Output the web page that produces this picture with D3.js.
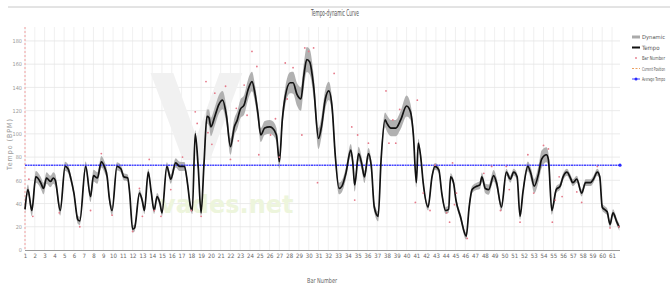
<!DOCTYPE html>
<html><head><meta charset="utf-8">
<script src="https://cdn.jsdelivr.net/npm/d3@7"></script>
<style>
html,body{margin:0;padding:0;background:#fff;}
svg{display:block;font-family:"Liberation Sans Narrow","DejaVu Sans Condensed","Liberation Sans",sans-serif;}
</style></head>
<body>
<svg id="c" width="670" height="288"></svg>
<script>
// ---- data ----
const barTicks = d3.range(1, 62);
const yTicks = [0, 20, 40, 60, 80, 100, 120, 140, 160, 180];
const tempoBar = [1.0,1.3,1.7,2.1,2.3,2.6,2.9,3.2,3.6,3.9,4.1,4.6,5.1,5.4,5.7,6.0,6.4,6.6,7.2,7.7,8.0,8.4,8.8,9.1,9.4,9.6,9.9,10.4,10.8,11.1,11.5,11.7,12.0,12.2,12.7,13.0,13.2,13.6,13.9,14.2,14.5,14.8,15.0,15.5,15.9,16.4,16.8,17.3,17.6,17.9,18.1,18.4,18.7,19.0,19.3,19.6,19.8,20.0,20.4,20.8,21.2,21.6,22.0,22.4,22.7,23.0,23.4,23.8,24.2,24.5,24.8,25.1,25.5,26.0,26.3,26.7,27.0,27.3,27.6,28.1,28.4,28.8,29.2,29.5,29.8,30.1,30.5,31.0,31.3,31.7,32.05,32.4,32.7,33.1,33.4,33.8,34.3,34.5,34.7,35.1,35.4,35.7,36.1,36.4,36.7,37.1,37.4,37.8,38.0,38.4,38.9,39.4,40.0,40.4,40.7,41.0,41.2,41.45,41.7,42.2,42.6,42.9,43.3,43.6,44.0,44.3,44.5,44.8,45.05,45.5,46.1,46.4,46.7,47.2,47.5,47.7,48.05,48.4,48.9,49.2,49.7,50.2,50.6,50.95,51.3,51.6,51.9,52.4,52.7,53.05,53.5,53.8,54.3,54.5,54.85,55.3,55.7,56.0,56.4,56.7,57.0,57.4,57.9,58.3,58.8,59.1,59.5,59.75,60.0,60.3,60.5,60.8,61.1,61.5,61.75];
const tempoVal = [35,52,34,63,62,58,53,62,59,62,60,34,72,70,61,49,26,25,72,46,64,62,76,72,63,46,34,72,70,63,62,49,18,19,49,42,34,67,50,34,46,40,32,72,61,75,72,72,58,38,34,100,72,32,75,115,114,106,115,125,129,115,89,106,112,121,125,138,145,135,118,99,105,106,105,99,76,112,132,144,144,134,130,150,164,162,141,96,106,130,137,122,83,53,55,66,86,76,56,83,75,63,83,72,37,29,78,112,109,105,105,112,124,119,99,58,92,80,58,37,63,72,69,49,34,35,63,58,43,29,12,37,52,55,56,63,53,52,64,58,37,67,61,67,63,29,50,72,66,55,66,78,82,78,34,52,55,63,67,63,58,61,49,58,58,61,67,63,37,34.5,33,22,32,24,19.5];
// dynamic band half-width per bar (1..62)
const dynamicBar = d3.range(1, 63);
const dynamicWidth = [4,5,5,5,4,3,4,5,5,4,3,3,3,3,3,4,4,3,3,8,8,7,8,9,6,6,6,9,10,11,9,8,5,5,6,5,4,7,7,9,4,3,3,3,3,3,3,4,5,3,3,3,6,8,3,3,3,3,3,3,3,3];
const barPtX = [1.4,1.8,4.5,6.6,7.7,8.8,9.9,12.0,12.7,13.0,13.7,14.2,14.9,15.9,17.1,18.0,18.4,18.6,19.0,19.5,19.7,20.1,20.4,21.5,22.0,22.6,22.8,23.4,23.7,24.2,24.7,24.9,26.1,26.6,27.0,27.6,27.8,28.4,29.3,29.6,30.0,30.5,30.9,32.6,34.4,34.7,35.0,36.1,37.9,38.2,38.6,38.9,39.3,41.1,40.9,41.7,42.4,42.9,44.1,44.4,44.7,44.9,45.1,46.2,47.9,48.7,49.6,50.2,50.5,51.6,52.4,53.0,54.0,54.5,54.9,55.2,55.6,55.9,57.4,57.9,59.5,60.8,61.7];
const barPtY = [61,29,32,20,34,83,30,16,53,29,78,34,29,52,80,34,119,109,29,145,101,91,135,141,78,122,94,142,116,171,158,82,99,113,80,161,130,157,99,174,171,174,58,152,106,43,99,92,137,92,112,92,121,129,41,49,34,73,32,24,75,39,49,10,66,72,34,72,52,24,82,49,90,87,24,43,63,46,50,41,72,19,20];
const averageTempo = 73;
const legendLabels = ["Dynamic", "Tempo", "Bar Number", "Current Position", "Average Tempo"];

// ---- layout ----
const svg = d3.select("#c");
const x = d3.scaleLinear().domain([1, 61]).range([25, 612]);
const y = d3.scaleLinear().domain([0, 192]).range([250, 27]);
const xEnd = 620;

// top border line
svg.append("line").attr("x1", 8).attr("x2", 670).attr("y1", 7).attr("y2", 7)
  .attr("stroke", "#c8c8c8").attr("stroke-width", 1);
svg.append("text").attr("x", 335).attr("y", 16).attr("text-anchor", "middle")
  .attr("font-size", 8).attr("fill", "#555").attr("textLength", 48).attr("lengthAdjust", "spacingAndGlyphs")
  .text("Tempo-dynamic Curve");

// grid
const g = svg.append("g");
g.selectAll("line.vg").data(barTicks).join("line").attr("class", "vg")
  .attr("x1", d => x(d)).attr("x2", d => x(d)).attr("y1", 27).attr("y2", 250)
  .attr("stroke", "#ececec").attr("stroke-width", 0.8);
g.selectAll("line.hg").data(yTicks.slice(1)).join("line").attr("class", "hg")
  .attr("x1", x(1)).attr("x2", xEnd).attr("y1", d => y(d)).attr("y2", d => y(d))
  .attr("stroke", "#e6e6e6").attr("stroke-width", 0.8);

// watermark (very faint)
svg.append("text").attr("x", 150).attr("y", 160).attr("font-size", 120).attr("font-family", "DejaVu Sans")
  .attr("fill", "#f1f1f1").attr("font-weight", "bold").text("V");
svg.append("text").attr("x", 160).attr("y", 213).attr("font-size", 24).attr("font-family", "DejaVu Sans")
  .attr("fill", "#edf5dc").attr("font-weight", "bold").text("vades.net");

// axes
const xAxis = d3.axisBottom(x).tickValues(barTicks).tickSize(0).tickPadding(4).tickFormat(d3.format("d"));
const xa = svg.append("g").attr("transform", "translate(0,250)").call(xAxis);
xa.select(".domain").remove();
xa.selectAll("text").attr("font-size", 6).attr("fill", "#666").attr("font-family", "Liberation Sans Narrow, DejaVu Sans Condensed, sans-serif");
svg.append("line").attr("x1", x(1)).attr("x2", xEnd).attr("y1", 250.5).attr("y2", 250.5).attr("stroke", "#999").attr("stroke-width", 1);

const yAxis = d3.axisLeft(y).tickValues(yTicks).tickSize(0).tickPadding(3);
const ya = svg.append("g").attr("transform", "translate(25,0)").call(yAxis);
ya.select(".domain").remove();
ya.selectAll("text").attr("font-size", 5.5).attr("fill", "#999").attr("font-family", "Liberation Sans Narrow, DejaVu Sans Condensed, sans-serif");

svg.append("text").attr("transform", "translate(12,144) rotate(-90)").attr("text-anchor", "middle")
  .attr("font-size", 7).attr("fill", "#999").attr("letter-spacing", 1).text("Tempo (BPM)");
svg.append("text").attr("x", 322).attr("y", 283).attr("text-anchor", "middle")
  .attr("font-size", 7).attr("fill", "#666").attr("textLength", 30).attr("lengthAdjust", "spacingAndGlyphs").text("Bar Number");

// current position line
svg.append("line").attr("x1", x(1)).attr("x2", x(1)).attr("y1", 27).attr("y2", 250)
  .attr("stroke", "#f2a0a0").attr("stroke-width", 1).attr("stroke-dasharray", "2,2");

// data series
const pts = tempoBar.map((b, i) => ({b, v: tempoVal[i]}));
const wScale = d3.scaleLinear().domain(dynamicBar).range(dynamicWidth);
const area = d3.area().x(d => x(d.b)).y0(d => y(d.v - wScale(d.b))).y1(d => y(d.v + wScale(d.b))).curve(d3.curveMonotoneX);
svg.append("path").datum(pts).attr("d", area).attr("fill", "#a9a9a9").attr("opacity", 0.9);

// average tempo
svg.append("line").attr("x1", x(1)).attr("x2", xEnd).attr("y1", y(averageTempo)).attr("y2", y(averageTempo))
  .attr("stroke", "#4646ff").attr("stroke-width", 1.5).attr("stroke-dasharray", "2,0.6");
svg.append("circle").attr("cx", xEnd).attr("cy", y(averageTempo)).attr("r", 1.6).attr("fill", "#2a2aff");

const line = d3.line().x(d => x(d.b)).y(d => y(d.v)).curve(d3.curveMonotoneX);
svg.append("path").datum(pts).attr("d", line).attr("fill", "none").attr("stroke", "#111").attr("stroke-width", 1.7);

// bar number points
svg.selectAll("circle.bp").data(barPtX.map((b, i) => ({b, v: barPtY[i]}))).join("circle").attr("class", "bp")
  .attr("cx", d => x(d.b)).attr("cy", d => y(d.v)).attr("r", 0.9).attr("fill", "#e57a8a");

// legend
const lg = svg.append("g").attr("font-size", 6).attr("fill", "#555");
const ly = [37, 47.5, 58, 68.5, 79];
lg.append("line").attr("x1", 632).attr("x2", 640).attr("y1", ly[0]).attr("y2", ly[0]).attr("stroke", "#aaa").attr("stroke-width", 3);
lg.append("line").attr("x1", 632).attr("x2", 640).attr("y1", ly[1]).attr("y2", ly[1]).attr("stroke", "#111").attr("stroke-width", 2);
lg.append("circle").attr("cx", 636).attr("cy", ly[2]).attr("r", 0.9).attr("fill", "#e57a8a");
lg.append("line").attr("x1", 632).attr("x2", 640).attr("y1", ly[3]).attr("y2", ly[3]).attr("stroke", "#eba060").attr("stroke-width", 1).attr("stroke-dasharray", "2,1.5");
lg.append("line").attr("x1", 632).attr("x2", 640).attr("y1", ly[4]).attr("y2", ly[4]).attr("stroke", "#4646ff").attr("stroke-width", 1);
lg.append("circle").attr("cx", 636).attr("cy", ly[4]).attr("r", 1.5).attr("fill", "#2a2aff");
lg.selectAll("text").data(legendLabels).join("text").attr("x", 642).attr("y", (d, i) => ly[i] + 2)
  .attr("font-family", "Liberation Sans Narrow, DejaVu Sans Condensed, sans-serif").attr("fill", "#555")
  .text(d => d)
  .each(function () {
    const w = this.getComputedTextLength();
    if (w > 23) d3.select(this).attr("font-size", 5.5).attr("textLength", 23).attr("lengthAdjust", "spacingAndGlyphs");
  });
</script>
</body></html>
